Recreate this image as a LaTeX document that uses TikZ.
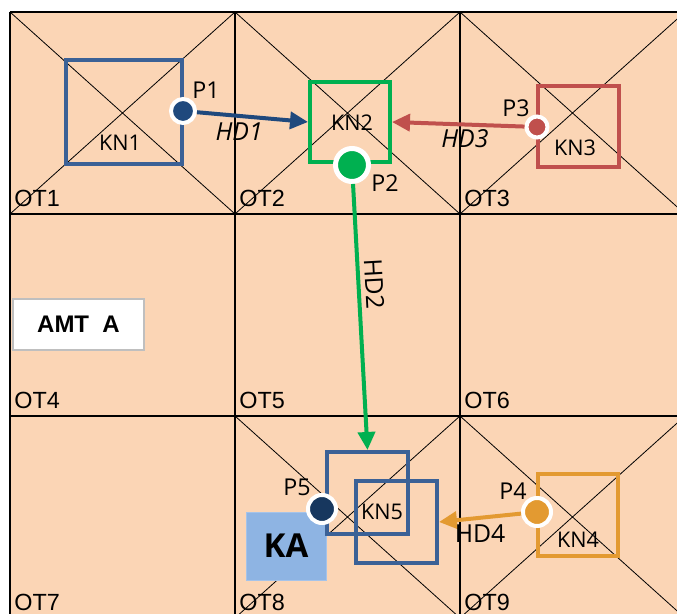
\documentclass[tikz,border=0pt]{standalone}
\usepackage{fontspec}
\setmainfont{Open Sans}
\newfontfamily\arialfont{Liberation Sans}
\usetikzlibrary{arrows.meta}
\definecolor{cellpeach}{HTML}{FBD5B5}
\definecolor{knblue}{HTML}{3B6196}
\definecolor{hdblue}{HTML}{1F497D}
\definecolor{hdgreen}{HTML}{00B050}
\definecolor{hdred}{HTML}{C0504D}
\definecolor{hdorange}{HTML}{E39A31}
\definecolor{p5navy}{HTML}{17375E}
\definecolor{kablue}{HTML}{8EB4E3}

\begin{document}
\begin{tikzpicture}[x=0.5pt,y=-0.5pt,every node/.style={font=\fontsize{10.8}{12}\selectfont},
  cellline/.style={black,line width=0.75pt},
  diagline/.style={black,line width=0.4pt},
  knframe/.style={draw=#1,line width=2pt,inner sep=0pt},
  pdot/.style={circle,fill=#1,draw=white,line width=2pt,inner sep=0pt},
  hdarrow/.style={draw=#1,line width=2pt,-{Triangle[length=9pt,width=8.5pt]}},
  hdlabel/.style={font=\fontsize{12.4}{14}\selectfont\itshape},
  plabel/.style={font=\fontsize{11.6}{13}\selectfont},
  otlabel/.style={anchor=base west,inner sep=0pt,font=\arialfont\fontsize{11.7}{13}\selectfont}]
\useasboundingbox (0,0) rectangle (677,614);
\clip (0,0) rectangle (677,614);
\fill[cellpeach] (10,12) rectangle (685,618);
\draw[diagline] (10,12) -- (235,214);
\draw[diagline] (235,12) -- (10,214);
\draw[diagline] (235,12) -- (460,214);
\draw[diagline] (460,12) -- (235,214);
\draw[diagline] (460,12) -- (685,214);
\draw[diagline] (685,12) -- (460,214);
\draw[diagline] (235,416) -- (460,618);
\draw[diagline] (460,416) -- (235,618);
\draw[diagline] (460,416) -- (685,618);
\draw[diagline] (685,416) -- (460,618);
\draw[cellline] (10,12) -- (685,12);
\draw[cellline] (10,214) -- (685,214);
\draw[cellline] (10,416) -- (685,416);
\draw[cellline] (10,12) -- (10,618);
\draw[cellline] (235,12) -- (235,618);
\draw[cellline] (460,12) -- (460,618);
\node[otlabel] (ot1) at (14,207) {OT1};
\node[otlabel] (ot2) at (239,207) {OT2};
\node[otlabel] (ot3) at (464,207) {OT3};
\node[otlabel] (ot4) at (14,409) {OT4};
\node[otlabel] (ot5) at (239,409) {OT5};
\node[otlabel] (ot6) at (464,409) {OT6};
\node[otlabel] (ot7) at (14,611) {OT7};
\node[otlabel] (ot8) at (239,611) {OT8};
\node[otlabel] (ot9) at (464,611) {OT9};
\node[draw=gray!50,fill=white,line width=0.75pt,minimum width=65.5pt,minimum height=25.5pt,font=\arialfont\bfseries\fontsize{12}{14}\selectfont] (amt) at (78.5,324.5) {AMT~~A};
\node[fill=kablue,draw=kablue!80!white,minimum width=40pt,minimum height=34pt,font=\bfseries\fontsize{16.5}{18}\selectfont] (ka) at (286,546) {KA};
\node[knframe=knblue,minimum width=58pt,minimum height=52pt] (kn1) at (124,112) {};
\node[knframe=hdgreen,minimum width=40pt,minimum height=40pt] (kn2) at (350,122) {};
\node[knframe=hdred,minimum width=40.5pt,minimum height=40.5pt] (kn3) at (578.5,126.5) {};
\node[knframe=hdorange,minimum width=40pt,minimum height=41pt] (kn4) at (578,515) {};
\node[knframe=knblue,minimum width=40.5pt,minimum height=41pt] (kn5a) at (367.5,493) {};
\node[knframe=knblue,minimum width=40.5pt,minimum height=41pt] (kn5b) at (396.5,522) {};
\node (kn1text) at (120,143) {KN1};
\node (kn2text) at (352,123) {KN2};
\node (kn3text) at (575,148) {KN3};
\node (kn4text) at (578,540) {KN4};
\node (kn5text) at (382,512) {KN5};
\node[pdot=hdblue,minimum size=12pt] (p1) at (183,111) {};
\node[pdot=hdgreen,minimum size=16.5pt,line width=2.5pt] (p2) at (352,165) {};
\node[pdot=hdred,minimum size=10.5pt] (p3) at (537,127) {};
\node[pdot=hdorange,minimum size=14pt] (p4) at (537,512) {};
\node[pdot=p5navy,minimum size=14pt] (p5) at (322,509) {};
\node[plabel] (p1text) at (206,90) {P1};
\node[plabel] (p2text) at (385,183) {P2};
\node[plabel] (p3text) at (516,108) {P3};
\node[plabel] (p4text) at (513,491) {P4};
\node[plabel] (p5text) at (297,487) {P5};
\draw[hdarrow=hdblue] (p1) -- (kn2.west) node[hdlabel,pos=0.38,below=-1pt] (hd1) {HD1};
\draw[hdarrow=hdred] (p3) -- (kn2.east) node[hdlabel,pos=0.45,below=-2pt] (hd3) {HD3};
\draw[hdarrow=hdgreen] (p2) -- (kn5a.north) node[hdlabel,font=\fontsize{12.4}{14}\selectfont,pos=0.38,sloped,above=-1pt] (hd2) {HD2};
\draw[hdarrow=hdorange] (p4) -- (kn5b.east) node[hdlabel,font=\fontsize{12.4}{14}\selectfont,pos=0.5,below=-1pt] (hd4) {HD4};
\end{tikzpicture}
\end{document}
